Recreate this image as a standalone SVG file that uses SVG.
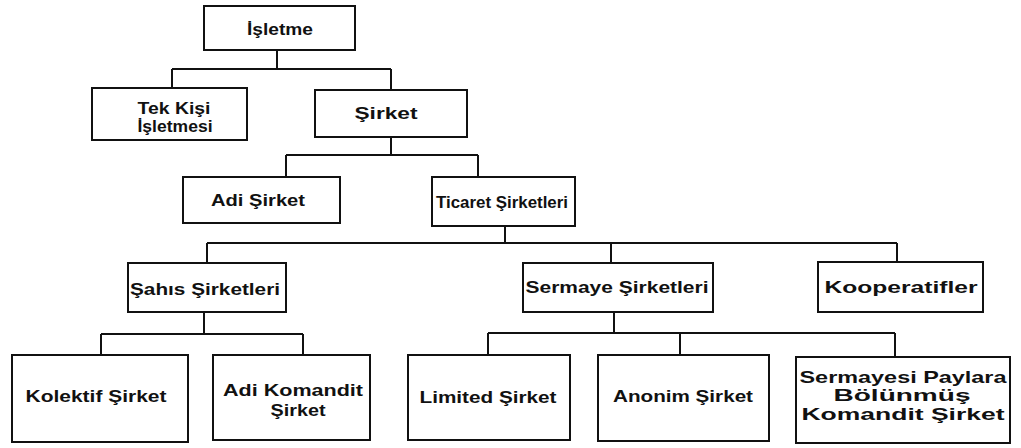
<svg xmlns="http://www.w3.org/2000/svg" width="1021" height="448" viewBox="0 0 1021 448">
<style>
.box{fill:#fff;stroke:#111;stroke-width:2}
.t{font-family:"Liberation Sans",Arial,sans-serif;font-weight:bold;font-size:16.5px;fill:#111;text-anchor:middle}
.c{fill:none;stroke:#111;stroke-width:2}
</style>
<rect width="1021" height="448" fill="#fff"/>
<g id="connectors" class="c">
<path d="M277,50 V69 M172,69 H391 M172,69 V88 M391,69 V90"/>
<path d="M391,137 V155 M286,155 H478 M286,155 V177 M478,155 V177"/>
<path d="M505,226 V243 M207,243 H897 M207,243 V263 M611,243 V263 M897,243 V262"/>
<path d="M204,312 V334 M101,334 H303 M101,334 V355 M303,334 V355"/>
<path d="M614,312 V333 M488,333 H895 M488,333 V355 M680,333 V355 M895,333 V357"/>
</g>
<g id="isletme"><rect class="box" x="204" y="6" width="151" height="44"/><text class="t" x="280" y="35" textLength="66" lengthAdjust="spacingAndGlyphs">İşletme</text></g>
<g id="tek-kisi"><rect class="box" x="92" y="88" width="155" height="52"/><text class="t" x="174" y="114" textLength="73" lengthAdjust="spacingAndGlyphs">Tek Kişi</text><text class="t" x="175" y="132" textLength="75" lengthAdjust="spacingAndGlyphs">İşletmesi</text></g>
<g id="sirket"><rect class="box" x="315" y="90" width="152" height="47"/><text class="t" x="386" y="119" textLength="63" lengthAdjust="spacingAndGlyphs">Şirket</text></g>
<g id="adi-sirket"><rect class="box" x="183" y="177" width="157" height="46"/><text class="t" x="258" y="206" textLength="94" lengthAdjust="spacingAndGlyphs">Adi Şirket</text></g>
<g id="ticaret"><rect class="box" x="432" y="177" width="143" height="49"/><text class="t" x="502" y="208" textLength="132" lengthAdjust="spacingAndGlyphs">Ticaret Şirketleri</text></g>
<g id="sahis"><rect class="box" x="128" y="263" width="158" height="49"/><text class="t" x="205" y="295" textLength="150" lengthAdjust="spacingAndGlyphs">Şahıs Şirketleri</text></g>
<g id="sermaye"><rect class="box" x="523" y="263" width="190" height="49"/><text class="t" x="617" y="293" textLength="183" lengthAdjust="spacingAndGlyphs">Sermaye Şirketleri</text></g>
<g id="kooperatifler"><rect class="box" x="818" y="262" width="165" height="50"/><text class="t" x="901" y="293" textLength="153" lengthAdjust="spacingAndGlyphs">Kooperatifler</text></g>
<g id="kolektif"><rect class="box" x="12" y="355" width="176" height="87"/><text class="t" x="96" y="402" textLength="141" lengthAdjust="spacingAndGlyphs">Kolektif Şirket</text></g>
<g id="adi-komandit"><rect class="box" x="213" y="355" width="157" height="85"/><text class="t" x="293" y="396" textLength="140" lengthAdjust="spacingAndGlyphs">Adi Komandit</text><text class="t" x="298" y="416" textLength="55" lengthAdjust="spacingAndGlyphs">Şirket</text></g>
<g id="limited"><rect class="box" x="408" y="355" width="162" height="85"/><text class="t" x="488" y="403" textLength="137" lengthAdjust="spacingAndGlyphs">Limited Şirket</text></g>
<g id="anonim"><rect class="box" x="598" y="355" width="171" height="86"/><text class="t" x="683" y="402" textLength="140" lengthAdjust="spacingAndGlyphs">Anonim Şirket</text></g>
<g id="sermayesi-paylara"><rect class="box" x="796" y="357" width="214" height="86"/><text class="t" x="903" y="383" textLength="207" lengthAdjust="spacingAndGlyphs">Sermayesi Paylara</text><text class="t" x="902" y="401" textLength="137" lengthAdjust="spacingAndGlyphs">Bölünmüş</text><text class="t" x="903" y="420" textLength="203" lengthAdjust="spacingAndGlyphs">Komandit Şirket</text></g>
</svg>
